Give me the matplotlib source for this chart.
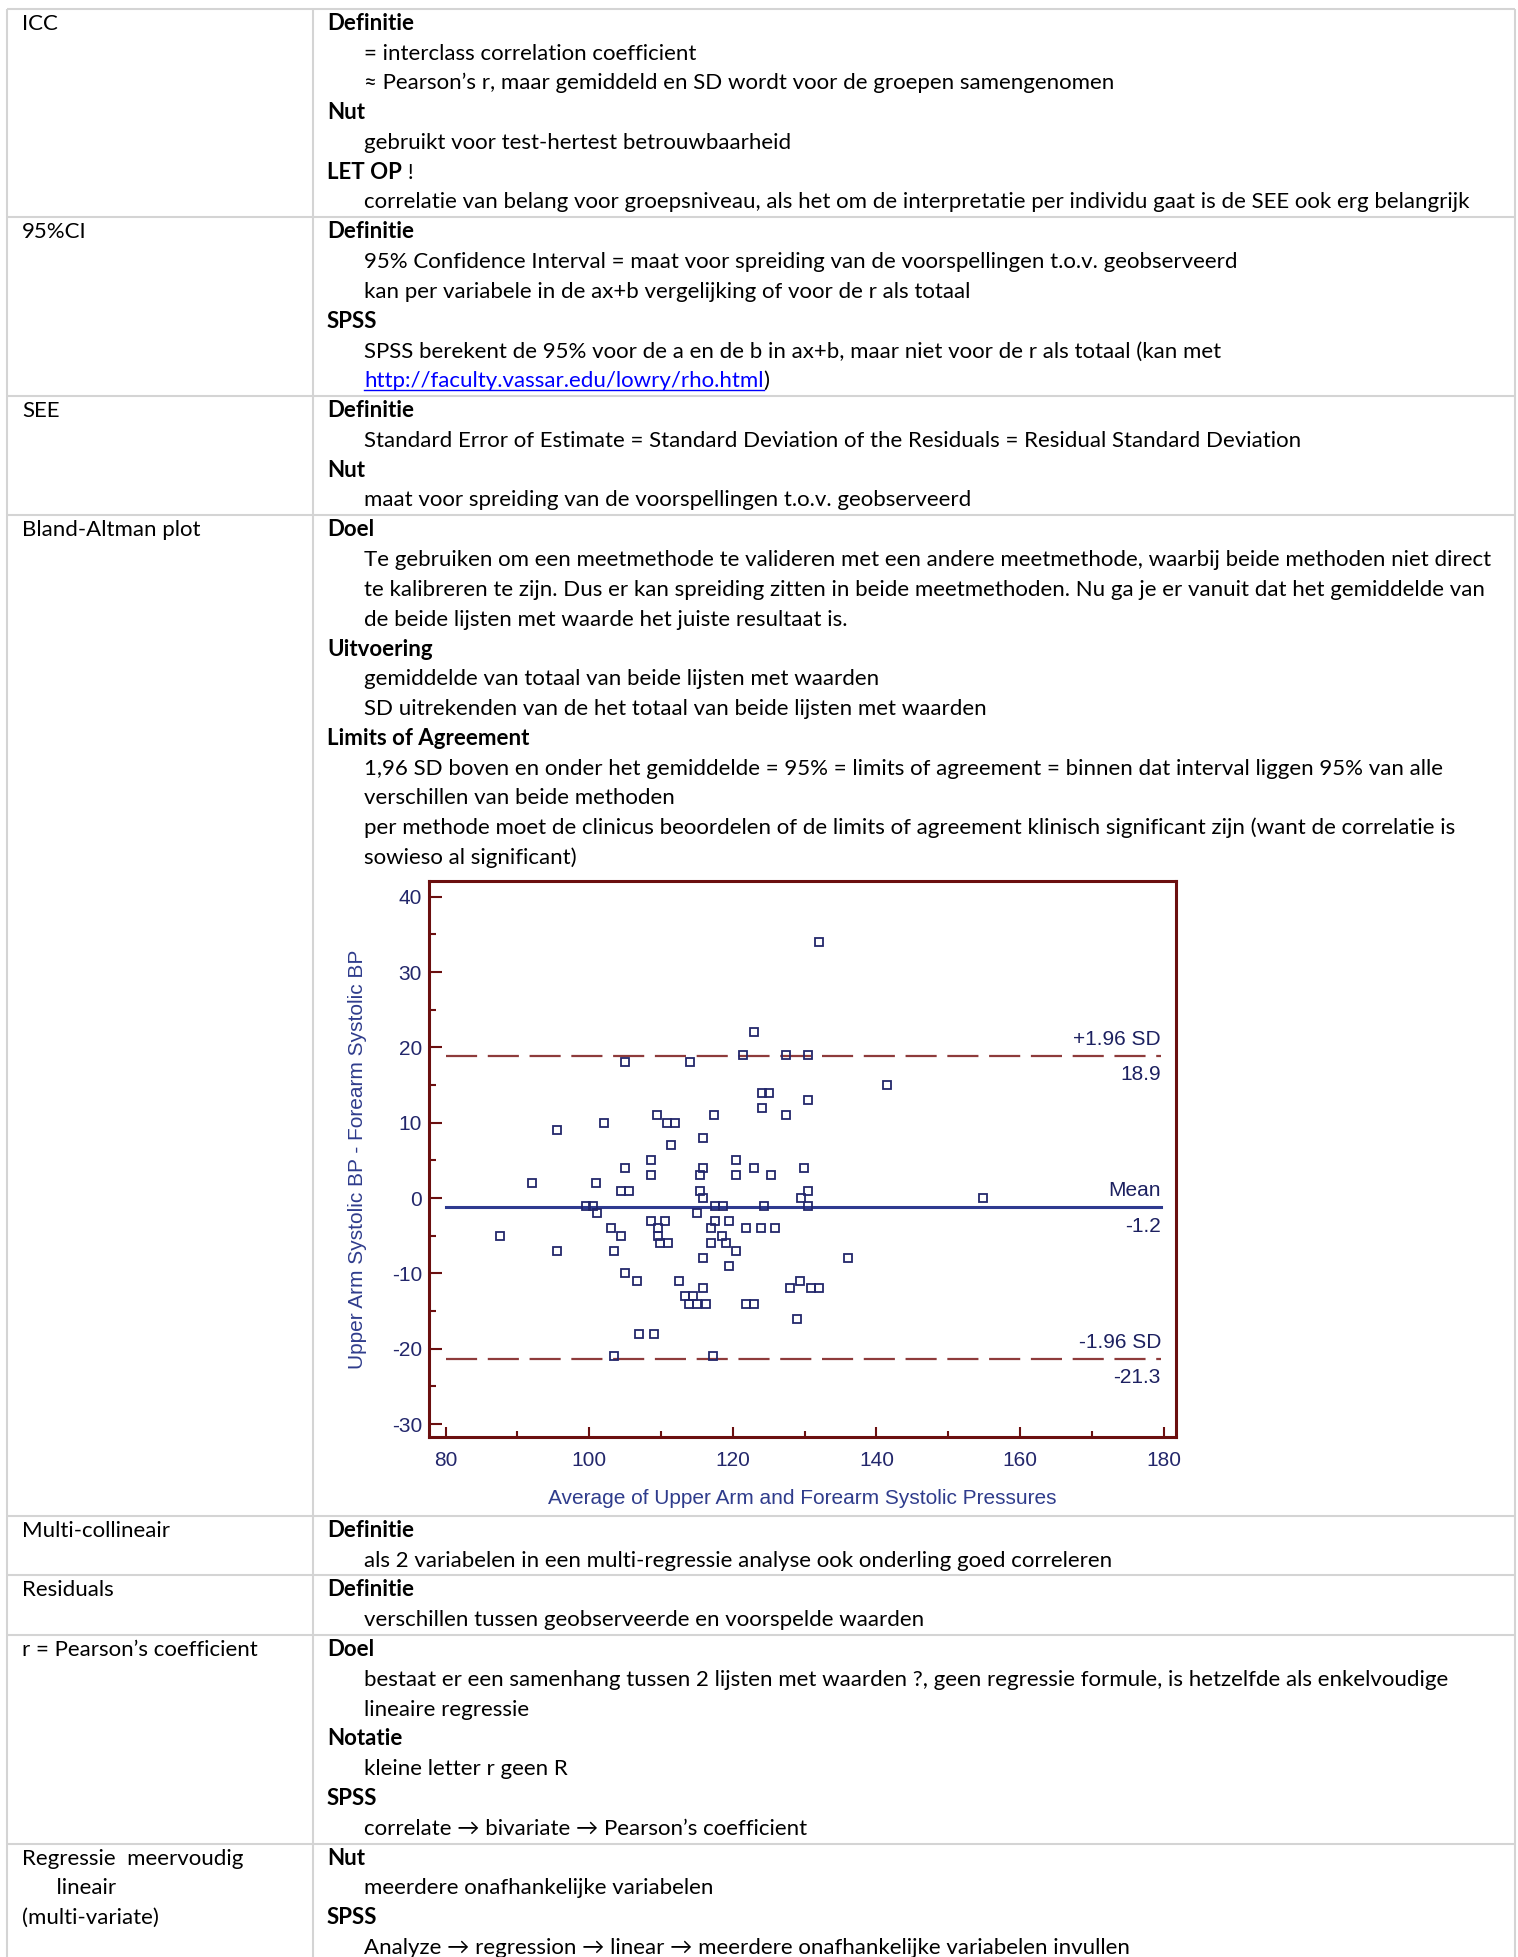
import matplotlib
matplotlib.use("Agg")
import matplotlib.pyplot as plt
from matplotlib.ticker import MultipleLocator

plt.rcParams["axes.unicode_minus"] = False

B, H = 1518, 1957

# ---- Bland-Altman data ----
gem_bp = [87.6, 92.0, 95.5, 95.5, 99.6, 100.5, 101.0, 101.1, 102.0, 103.0,
          103.5, 103.5, 104.4, 105.5, 104.4, 105.0, 105.0, 105.0, 106.6, 106.9,
          109.0, 108.6, 108.6, 108.6, 109.5, 110.8, 111.9, 111.4, 110.6, 109.6,
          109.6, 109.9, 111.0, 112.5, 113.4, 114.5, 113.9, 115.0, 116.2, 115.8,
          114.0, 115.8, 115.8, 115.4, 115.4, 115.8, 115.0, 117.5, 118.6, 117.4,
          117.5, 119.4, 117.0, 118.5, 117.0, 119.1, 120.5, 115.8, 119.4, 117.3,
          120.5, 120.5, 121.4, 123.0, 124.0, 125.0, 124.0, 127.4, 127.4, 130.4,
          130.4, 123.0, 125.3, 129.9, 130.4, 129.5, 124.4, 130.4, 121.9, 123.9,
          125.9, 121.8, 123.0, 127.9, 129.4, 130.9, 132.0, 129.0, 132.0, 141.4,
          136.0, 154.8]
verschil_bp = [-5, 2, 9, -7, -1, -1, 2, -2, 10, -4,
               -7, -21, 1, 1, -5, 18, 4, -10, -11, -18,
               -18, 5, 3, -3, 11, 10, 10, 7, -3, -4,
               -5, -6, -6, -11, -13, -13, -14, -14, -14, -12,
               18, 8, 4, 3, 1, 0, -2, -1, -1, 11,
               -3, -3, -4, -5, -6, -6, -7, -8, -9, -21,
               5, 3, 19, 22, 14, 14, 12, 11, 19, 19,
               13, 4, 3, 4, 1, 0, -1, -1, -4, -4,
               -4, -14, -14, -12, -11, -12, -12, -16, 34, 15,
               -8, 0]
gem_verschil = -1.2
loa_boven = 18.9
loa_onder = -21.3
lijn_bereik = [80, 179.6]
x_ticks = [80, 100, 120, 140, 160, 180]
y_ticks = [-30, -20, -10, 0, 10, 20, 30, 40]

# ---- tabel tekst ----
rijen = [
    (["ICC"], [
        ("kop", "Definitie"),
        ("tekst", "= interclass correlation coefficient"),
        ("tekst", "\u2248 Pearson\u2019s r, maar gemiddeld en SD wordt voor de groepen samengenomen"),
        ("kop", "Nut"),
        ("tekst", "gebruikt voor test-hertest betrouwbaarheid"),
        ("kop!", "LET OP"),
        ("tekst", "correlatie van belang voor groepsniveau, als het om de interpretatie per individu gaat is de SEE ook erg belangrijk"),
    ]),
    (["95%CI"], [
        ("kop", "Definitie"),
        ("tekst", "95% Confidence Interval = maat voor spreiding van de voorspellingen t.o.v. geobserveerd"),
        ("tekst", "kan per variabele in de ax+b vergelijking of voor de r als totaal"),
        ("kop", "SPSS"),
        ("tekst", "SPSS berekent de 95% voor de a en de b in ax+b, maar niet voor de r als totaal (kan met"),
        ("link", "http://faculty.vassar.edu/lowry/rho.html"),
    ]),
    (["SEE"], [
        ("kop", "Definitie"),
        ("tekst", "Standard Error of Estimate = Standard Deviation of the Residuals = Residual Standard Deviation"),
        ("kop", "Nut"),
        ("tekst", "maat voor spreiding van de voorspellingen t.o.v. geobserveerd"),
    ]),
    (["Bland-Altman plot"], [
        ("kop", "Doel"),
        ("tekst", "Te gebruiken om een meetmethode te valideren met een andere meetmethode, waarbij beide methoden niet direct"),
        ("tekst", "te kalibreren te zijn. Dus er kan spreiding zitten in beide meetmethoden. Nu ga je er vanuit dat het gemiddelde van"),
        ("tekst", "de beide lijsten met waarde het juiste resultaat is."),
        ("kop", "Uitvoering"),
        ("tekst", "gemiddelde van totaal van beide lijsten met waarden"),
        ("tekst", "SD uitrekenden van de het totaal van beide lijsten met waarden"),
        ("kop", "Limits of Agreement"),
        ("tekst", "1,96 SD boven en onder het gemiddelde = 95% = limits of agreement = binnen dat interval liggen 95% van alle"),
        ("tekst", "verschillen van beide methoden"),
        ("tekst", "per methode moet de clinicus beoordelen of de limits of agreement klinisch significant zijn (want de correlatie is"),
        ("tekst", "sowieso al significant)"),
        ("plot", ""),
    ]),
    (["Multi-collineair"], [
        ("kop", "Definitie"),
        ("tekst", "als 2 variabelen in een multi-regressie analyse ook onderling goed correleren"),
    ]),
    (["Residuals"], [
        ("kop", "Definitie"),
        ("tekst", "verschillen tussen geobserveerde en voorspelde waarden"),
    ]),
    (["r = Pearson\u2019s coefficient"], [
        ("kop", "Doel"),
        ("tekst", "bestaat er een samenhang tussen 2 lijsten met waarden ?, geen regressie formule, is hetzelfde als enkelvoudige"),
        ("tekst", "lineaire regressie"),
        ("kop", "Notatie"),
        ("tekst", "kleine letter r geen R"),
        ("kop", "SPSS"),
        ("tekst", "correlate \u2192 bivariate \u2192 Pearson\u2019s coefficient"),
    ]),
    (["Regressie  meervoudig", "      lineair", "(multi-variate)"], [
        ("kop", "Nut"),
        ("tekst", "meerdere onafhankelijke variabelen"),
        ("kop", "SPSS"),
        ("tekst", "Analyze \u2192 regression \u2192 linear \u2192 meerdere onafhankelijke variabelen invullen"),
    ]),
]

FAM = ["Lato", "DejaVu Sans"]
FS = 16
REGEL = 29.8
X_LINKS, X_KOP, X_TEKST = 22, 327, 364
X_RAND_L, X_KOLOM, X_RAND_R = 7, 313, 1515
RAND_KLEUR = "#d4d4d4"
PLOT_HOOGTE = 643

fig = plt.figure(figsize=(B / 100, H / 100), dpi=100)
fig.patch.set_facecolor("white")
ax_p = fig.add_axes([0, 0, 1, 1])
ax_p.set_xlim(0, B)
ax_p.set_ylim(H, 0)
ax_p.axis("off")
renderer = fig.canvas.get_renderer()


def schrijf(x, y, s, **kw):
    return ax_p.text(x, y, s, va="baseline", family=FAM, fontsize=FS, **kw)


def hlijn(y):
    ax_p.plot([X_RAND_L, X_RAND_R], [y, y], color=RAND_KLEUR, lw=1.5,
              solid_capstyle="butt")


y_top = 8.7
hlijn(y_top)
plot_top = None
for links, rechts in rijen:
    for i, s in enumerate(links):
        schrijf(X_LINKS, y_top + 21 + i * REGEL, s)
    y = y_top
    for soort, s in rechts:
        if soort == "plot":
            plot_top = y
            y += PLOT_HOOGTE
            continue
        yb = y + 21
        if soort == "kop":
            schrijf(X_KOP, yb, s, fontweight="bold")
        elif soort == "kop!":
            t = schrijf(X_KOP, yb, s, fontweight="bold")
            x1 = t.get_window_extent(renderer=renderer).x1
            schrijf(x1, yb, " !")
        elif soort == "link":
            t = schrijf(X_TEKST, yb, s, color="#0000ff")
            x1 = t.get_window_extent(renderer=renderer).x1
            ax_p.plot([X_TEKST, x1], [yb + 3, yb + 3], color="#0000ff", lw=1)
            schrijf(x1, yb, ")")
        else:
            schrijf(X_TEKST, yb, s)
        y += REGEL
    y_top = y
    if y_top < H:
        hlijn(y_top)

for x in (X_RAND_L, X_KOLOM, X_RAND_R):
    ax_p.plot([x, x], [8.7, H], color=RAND_KLEUR, lw=1.5, solid_capstyle="butt")

# ---- Bland-Altman plot ----
navy = "#23276b"
blauw = "#2f3c8c"
donkerrood = "#6b0f0f"
streep_rood = "#8e3b3b"
PFAM = ["Liberation Sans", "DejaVu Sans"]

f_links, f_rechts = 429, 1176
f_boven = plot_top + 8
f_onder = f_boven + 556
ax = fig.add_axes([f_links / B, 1 - f_onder / H,
                   (f_rechts - f_links) / B, (f_onder - f_boven) / H])
ax.set_facecolor("white")
ax.set_xlim(77.7, 181.7)
ax.set_ylim(-31.7, 42.1)

ax.plot(gem_bp, verschil_bp, ls="none", marker="s", ms=6, mfc="none",
        mec=navy, mew=1.3, zorder=3)
ax.plot(lijn_bereik, [gem_verschil] * 2, color="#2e3a8f", lw=2.2, zorder=2)
for v in (loa_boven, loa_onder):
    ax.plot(lijn_bereik, [v] * 2, color=streep_rood, lw=1.6,
            dashes=(14.0, 4.8), zorder=2)

for v, boven, onder in [(loa_boven, "+1.96 SD", "18.9"),
                         (gem_verschil, "Mean", "-1.2"),
                         (loa_onder, "-1.96 SD", "-21.3")]:
    ax.annotate(boven, (lijn_bereik[1], v), xytext=(0, 5), textcoords="offset points",
                ha="right", va="bottom", color="#1c2060", fontsize=15, family=PFAM)
    ax.annotate(onder, (lijn_bereik[1], v), xytext=(0, -7), textcoords="offset points",
                ha="right", va="top", color="#1c2060", fontsize=15, family=PFAM)

for sp in ax.spines.values():
    sp.set_color(donkerrood)
    sp.set_linewidth(2.2)

ax.set_xticks(x_ticks)
ax.set_yticks(y_ticks)
ax.xaxis.set_minor_locator(MultipleLocator(10))
ax.yaxis.set_minor_locator(MultipleLocator(5))
ax.tick_params(axis="both", which="both", direction="in", color=donkerrood,
               width=1.5, labelcolor=navy, labelsize=15)
ax.tick_params(axis="y", which="major", length=9.5, pad=5)
ax.tick_params(axis="y", which="minor", length=5)
ax.tick_params(axis="x", which="major", length=7, pad=10)
ax.tick_params(axis="x", which="minor", length=4)
for lab in ax.get_xticklabels() + ax.get_yticklabels():
    lab.set_family(PFAM)

ax.set_xlabel("Average of Upper Arm and Forearm Systolic Pressures",
              fontsize=15, color=blauw, family=PFAM, labelpad=14)
ax.set_ylabel("Upper Arm Systolic BP - Forearm Systolic BP",
              fontsize=15, color=blauw, family=PFAM, labelpad=18)

fig.savefig("out.png", dpi=100)
